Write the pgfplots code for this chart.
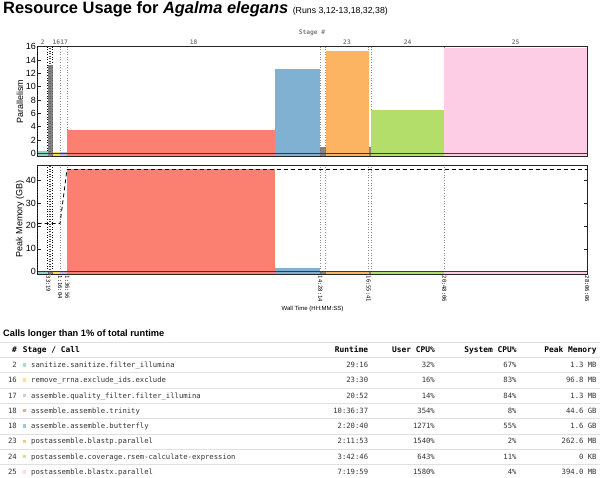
\documentclass[border=0pt]{standalone}
\usepackage{pgfplots}
\pgfplotsset{compat=1.18}
\usepackage{fontspec}
\setmainfont{Liberation Sans}
\newfontfamily\mono{DejaVu Sans Mono}
\definecolor{cteal}{HTML}{8DD3C7}
\definecolor{cyellow}{HTML}{F2DF4E}
\definecolor{clav}{HTML}{BEBADA}
\definecolor{csalmon}{HTML}{FB8072}
\definecolor{cblue}{HTML}{80B1D3}
\definecolor{corange}{HTML}{FDB462}
\definecolor{cgreen}{HTML}{B3DE69}
\definecolor{cpink}{HTML}{FCCDE5}
\definecolor{cgray}{HTML}{6E6E6E}
\definecolor{zline}{HTML}{3A3A3A}
\pgfplotsset{myax/.style={
  scale only axis, width=549.5bp, xmin=0, xmax=101166, clip=false,
  scaled x ticks=false, scaled y ticks=false,
  axis line style={black!85, line width=0.8bp},
  tick align=inside, major tick length=3bp,
  tick style={black!85, line width=0.5bp},
  ytick pos=both,
  /pgf/number format/assume math mode=true,
  yticklabel style={font=\fontsize{9}{10}\selectfont, inner sep=1.5bp},
}}
\begin{document}
\begin{tikzpicture}
\path[use as bounding box] (0bp,0bp) rectangle (600bp,-478bp);
% title
\node[anchor=base west, inner sep=0] at (3bp,-13.8bp)
  {\fontsize{16.5}{19}\selectfont\bfseries Resource Usage for \textit{Agalma elegans}\ {\mdseries\upshape\fontsize{8.8}{10}\selectfont (Runs 3,12-13,18,32,38)}};
\node[font=\mono\bfseries\fontsize{6.3}{7}\selectfont, text=black!50] at (312bp,-33bp) {Stage \#};
\node[rotate=90, font=\fontsize{9}{10}\selectfont] at (20bp,-101.5bp) {Parallelism};
\node[rotate=90, font=\fontsize{9}{10}\selectfont] at (20bp,-219bp) {Peak Memory (GB)};
\node[font=\fontsize{6}{7}\selectfont] at (312.5bp,-309bp) {Wall Time (HH:MM:SS)};

% ---------------- top axis: parallelism ----------------
\begin{axis}[myax, at={(37.5bp,-156bp)}, anchor=south west, height=109.3bp,
  ymin=-0.4, ymax=16, ytick={0,2,...,16}, xtick=\empty]
\pgfplotsinvokeforeach{0,1841,2669}{\addplot[black, dotted, line width=0.6bp] coordinates {(#1,-0.4) (#1,16)};}
\pgfplotsinvokeforeach{2117,2393}{\addplot[black!70, dotted, line width=0.5bp] coordinates {(#1,-0.4) (#1,16)};}
\pgfplotsinvokeforeach{4142,5431,52094,53022,60941,61397,74886}{\addplot[black!45, dotted, line width=0.6bp] coordinates {(#1,-0.4) (#1,16)};}
\addplot[draw=none, fill=cteal] coordinates {(0,-0.4) (0,0.32) (1950,0.32) (1950,-0.4)} -- cycle;
\addplot[draw=none, fill=cgray, fill opacity=0.85] coordinates {(1950,-0.4) (1950,13.2) (2800,13.2) (2800,-0.4)} -- cycle;
\addplot[draw=none, fill=cyellow] coordinates {(2800,-0.4) (2800,0.16) (4142,0.16) (4142,-0.4)} -- cycle;
\addplot[draw=none, fill=clav] coordinates {(4142,-0.4) (4142,0.14) (5431,0.14) (5431,-0.4)} -- cycle;
\addplot[draw=none, fill=csalmon] coordinates {(5431,-0.4) (5431,3.54) (43724,3.54) (43724,-0.4)} -- cycle;
\addplot[draw=none, fill=cblue] coordinates {(43724,-0.4) (43724,12.71) (52094,12.71) (52094,-0.4)} -- cycle;
\addplot[draw=none, fill=cgray, fill opacity=0.85] coordinates {(52094,-0.4) (52094,1.0) (53022,1.0) (53022,-0.4)} -- cycle;
\addplot[draw=none, fill=corange] coordinates {(53022,-0.4) (53022,15.40) (60941,15.40) (60941,-0.4)} -- cycle;
\addplot[draw=none, fill=cgray, fill opacity=0.85] coordinates {(60941,-0.4) (60941,1.0) (61397,1.0) (61397,-0.4)} -- cycle;
\addplot[draw=none, fill=cgreen] coordinates {(61397,-0.4) (61397,6.43) (74886,6.43) (74886,-0.4)} -- cycle;
\addplot[draw=none, fill=cpink] coordinates {(74886,-0.4) (74886,15.80) (101166,15.80) (101166,-0.4)} -- cycle;
\addplot[zline, line width=1.1bp] coordinates {(0,0) (101166,0)};
\foreach \xx/\lab in {975/2, 3470/16, 4900/17, 28760/18, 56980/23, 68140/24, 88026/25}{
  \edef\tmp{\noexpand\node[anchor=south, inner sep=0, yshift=2bp, font=\noexpand\mono\noexpand\bfseries\noexpand\fontsize{6.3}{7}\noexpand\selectfont, text=black!50] at (axis cs:\xx,16) {\lab};}\tmp
}
\end{axis}

% ---------------- bottom axis: memory ----------------
\begin{axis}[myax, at={(37.5bp,-274bp)}, anchor=south west, height=108.7bp,
  ymin=-1, ymax=46.4, ytick={0,10,...,40},
  xtick={1988,4142,5486,52094,60941,74886,101166},
  xticklabels={33:19,1:16:04,1:36:56,14:28:14,16:55:41,20:48:06,28:06:06},
  xtick pos=bottom,
  xticklabel style={rotate=-90, anchor=west, inner sep=1.5bp, font=\mono\fontsize{5.5}{6}\selectfont}]
\pgfplotsinvokeforeach{0,1841,2669}{\addplot[black, dotted, line width=0.6bp] coordinates {(#1,-1) (#1,46.4)};}
\pgfplotsinvokeforeach{2117,2393}{\addplot[black!70, dotted, line width=0.5bp] coordinates {(#1,-1) (#1,46.4)};}
\pgfplotsinvokeforeach{4142,5431,52094,53022,60941,61397,74886}{\addplot[black!45, dotted, line width=0.6bp] coordinates {(#1,-1) (#1,46.4)};}
\addplot[draw=none, fill=cteal] coordinates {(0,-1) (0,0.0013) (1950,0.0013) (1950,-1)} -- cycle;
\addplot[draw=none, fill=cgray, fill opacity=0.85] coordinates {(1950,-1) (1950,0.1) (2800,0.1) (2800,-1)} -- cycle;
\addplot[draw=none, fill=cyellow] coordinates {(2800,-1) (2800,0.0968) (4142,0.0968) (4142,-1)} -- cycle;
\addplot[draw=none, fill=clav] coordinates {(4142,-1) (4142,0.0013) (5431,0.0013) (5431,-1)} -- cycle;
\addplot[draw=none, fill=csalmon] coordinates {(5431,-1) (5431,44.6) (43724,44.6) (43724,-1)} -- cycle;
\addplot[draw=none, fill=cblue] coordinates {(43724,-1) (43724,1.6) (52094,1.6) (52094,-1)} -- cycle;
\addplot[draw=none, fill=cgray, fill opacity=0.85] coordinates {(52094,-1) (52094,0.1) (53022,0.1) (53022,-1)} -- cycle;
\addplot[draw=none, fill=corange] coordinates {(53022,-1) (53022,0.2626) (60941,0.2626) (60941,-1)} -- cycle;
\addplot[draw=none, fill=cgray, fill opacity=0.85] coordinates {(60941,-1) (60941,0.1) (61397,0.1) (61397,-1)} -- cycle;
\addplot[draw=none, fill=cgreen] coordinates {(61397,-1) (61397,0) (74886,0) (74886,-1)} -- cycle;
\addplot[draw=none, fill=cpink] coordinates {(74886,-1) (74886,0.394) (101166,0.394) (101166,-1)} -- cycle;
\addplot[zline, line width=1.1bp] coordinates {(0,0) (101166,0)};
\addplot[black, line width=0.8bp, dash pattern=on 4bp off 3bp] coordinates {(0,21) (4142,21) (5431,44.6) (101166,44.6)};
\end{axis}

% ---------------- table ----------------
\node[anchor=base west, inner sep=0, font=\bfseries\fontsize{9.3}{11}\selectfont] at (3bp,-336bp) {Calls longer than 1\% of total runtime};
\foreach \ly in {342,357.3,372.6,387.9,403.2,418.5,433.8,449.1,464.4}
  \draw[black!12, line width=0.6bp] (0bp,{-\ly*1bp}) -- (600bp,{-\ly*1bp});
\begin{scope}[every node/.style={inner sep=0, font=\mono\bfseries\fontsize{7.9}{9}\selectfont}]
\node[anchor=base east] at (17bp,-352.3bp) {\#};
\node[anchor=base west] at (22.7bp,-352.3bp) {Stage / Call};
\node[anchor=base east] at (368.3bp,-352.3bp) {Runtime};
\node[anchor=base east] at (435bp,-352.3bp) {User CPU\%};
\node[anchor=base east] at (516.7bp,-352.3bp) {System CPU\%};
\node[anchor=base east] at (596.7bp,-352.3bp) {Peak Memory};
\end{scope}
\begin{scope}[every node/.style={inner sep=0, text=black!80, font=\mono\fontsize{7.25}{9}\selectfont}]
\foreach \y/\n/\c/\name/\rt/\uc/\sc/\pm in {
 367.4/2/cteal/sanitize.sanitize.filter\_illumina/29:16/32\%/67\%/1.3 MB,
 382.7/16/cyellow/remove\_rrna.exclude\_ids.exclude/23:30/16\%/83\%/96.8 MB,
 398.0/17/clav/assemble.quality\_filter.filter\_illumina/20:52/14\%/84\%/1.3 MB,
 413.3/18/csalmon/assemble.assemble.trinity/10:36:37/354\%/8\%/44.6 GB,
 428.6/18/cblue/assemble.assemble.butterfly/2:20:40/1271\%/55\%/1.6 GB,
 443.9/23/corange/postassemble.blastp.parallel/2:11:53/1540\%/2\%/262.6 MB,
 459.2/24/cgreen/postassemble.coverage.rsem-calculate-expression/3:42:46/643\%/11\%/0 KB,
 474.5/25/cpink/postassemble.blastx.parallel/7:19:59/1580\%/4\%/394.0 MB}{
  \node[anchor=base east] at (17bp,{-\y*1bp}) {\n};
  \fill[\c!75] (22.6bp,{-(\y-0.9)*1bp}) rectangle ++(3.4bp,3.4bp);
  \node[anchor=base west] at (31bp,{-\y*1bp}) {\name};
  \node[anchor=base east] at (368.3bp,{-\y*1bp}) {\rt};
  \node[anchor=base east] at (435bp,{-\y*1bp}) {\uc};
  \node[anchor=base east] at (516.7bp,{-\y*1bp}) {\sc};
  \node[anchor=base east] at (596.7bp,{-\y*1bp}) {\pm};
}
\end{scope}
\end{tikzpicture}
\end{document}
